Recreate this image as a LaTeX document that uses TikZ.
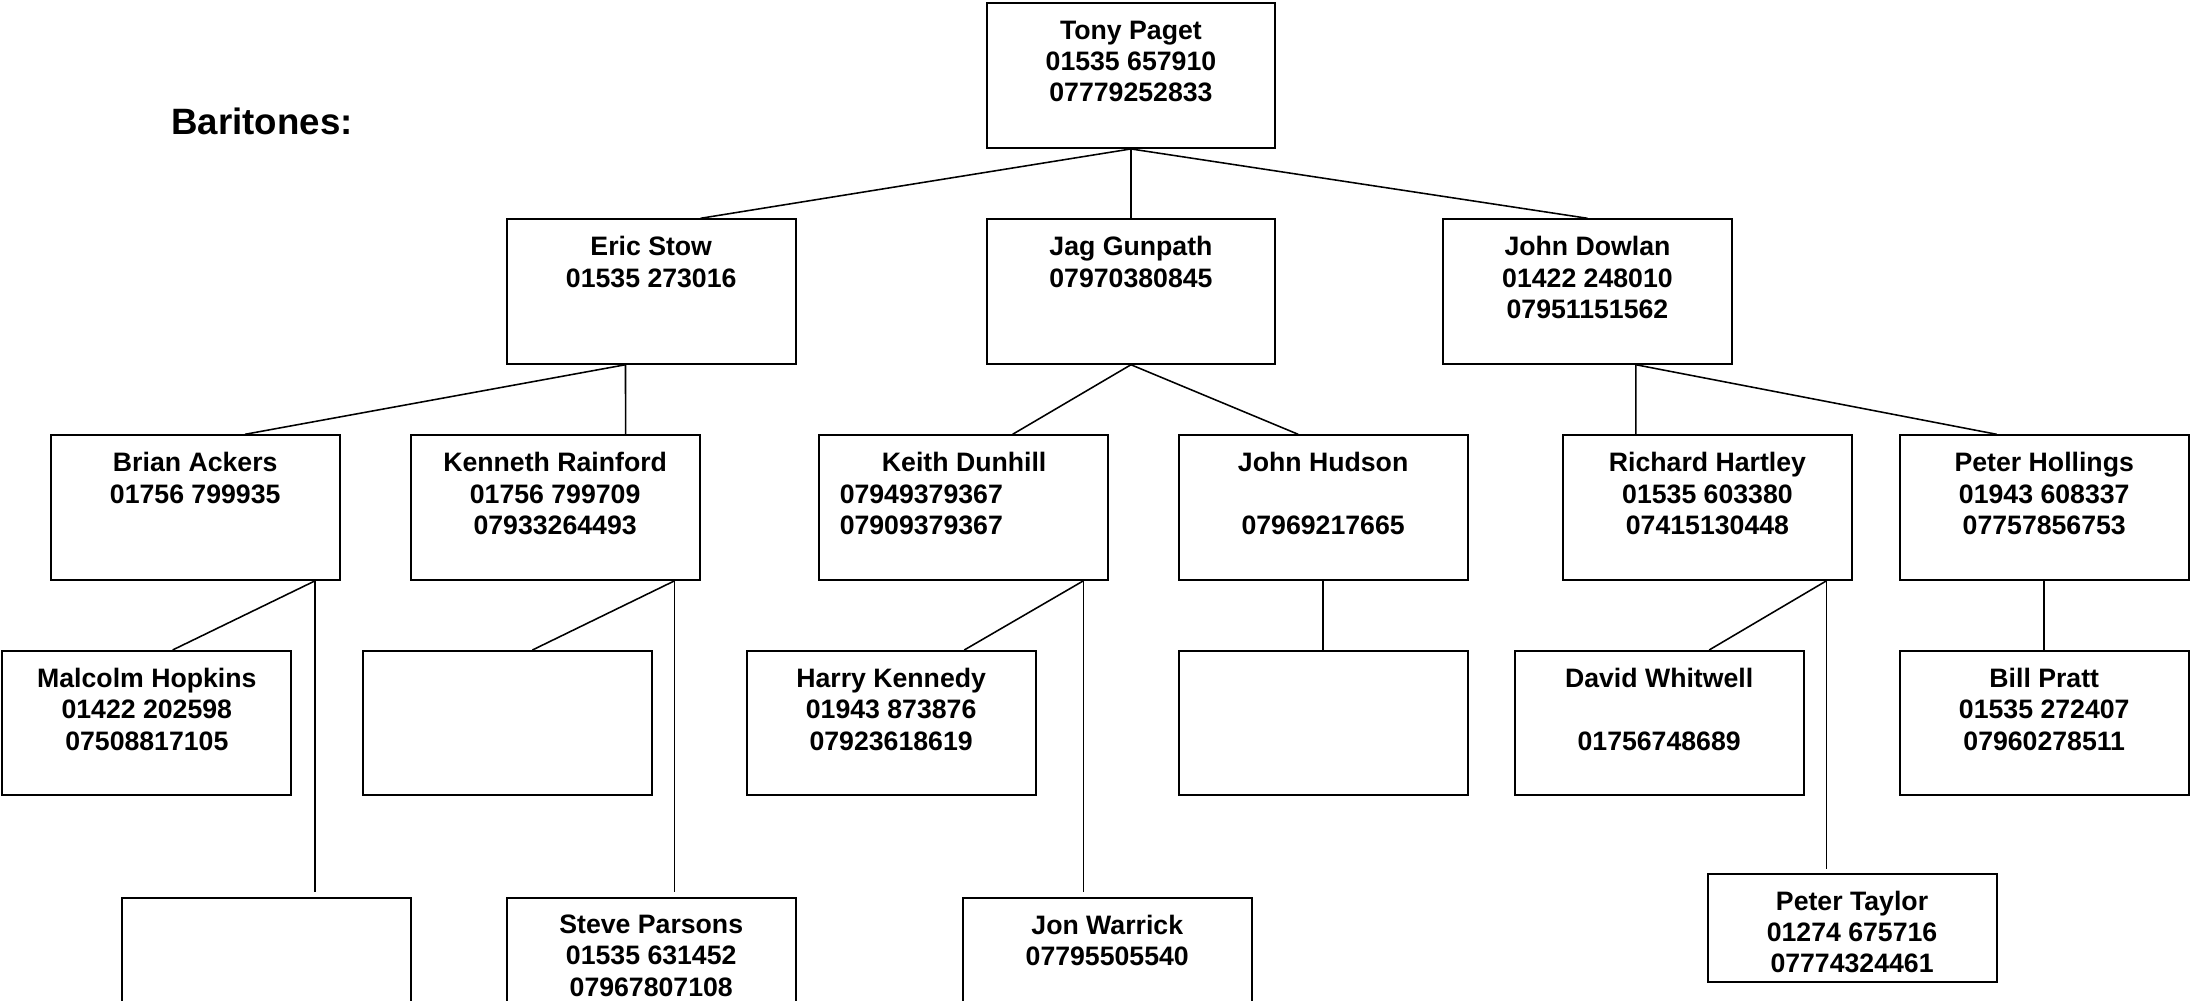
\documentclass[tikz,border=0pt]{standalone}
\usepackage{fontspec}
\setmainfont{Liberation Sans}
\tikzset{
  person/.style={draw, line width=0.9pt, anchor=north west, inner sep=0pt,
    minimum width=130pt, minimum height=65pt},
  short/.style={minimum height=48.6pt},
  info/.style={anchor=north, align=center, inner sep=0pt, yshift=-8pt,
    font=\bfseries\fontsize{12}{14.1}\selectfont},
  link/.style={line width=0.7pt},
}
\begin{document}
\begin{tikzpicture}[x=0.45pt,y=-0.45pt]
\useasboundingbox (0,0) rectangle (2190,1001);
\node[anchor=base west, inner sep=0pt, font=\bfseries\fontsize{16.5}{19}\selectfont] (title) at (171,135) {Baritones:};
% top
\node[person, label={[info]north:Tony Paget\\01535 657910\\07779252833}] (tp) at (985.5,2.5) {};
% second row
\node[person, label={[info]north:Eric Stow\\01535 273016}] (es) at (505.8,218.3) {};
\node[person, label={[info]north:Jag Gunpath\\07970380845}] (jg) at (985.5,218.3) {};
\node[person, label={[info]north:John Dowlan\\01422 248010\\07951151562}] (jd) at (1442,218.3) {};
% third row
\node[person, label={[info]north:Brian Ackers\\01756 799935}] (ba) at (49.8,434.3) {};
\node[person, label={[info]north:Kenneth Rainford\\01756 799709\\07933264493}] (kr) at (409.7,434.3) {};
\node[person, label={[info, align=left, anchor=north west, xshift=9.45pt]north west:\hspace*{19pt}Keith Dunhill\\07949379367\\07909379367}] (kd) at (818.3,434.3) {};
\node[person, label={[info]north:John Hudson\\[14.1pt]07969217665}] (jh) at (1177.7,434.3) {};
\node[person, label={[info]north:Richard Hartley\\01535 603380\\07415130448}] (rh) at (1562,434.3) {};
\node[person, label={[info]north:Peter Hollings\\01943 608337\\07757856753}] (ph) at (1898.8,434.3) {};
% fourth row
\node[person, label={[info]north:Malcolm Hopkins\\01422 202598\\07508817105}] (mh) at (1.4,650) {};
\node[person] (blank1) at (362,650) {};
\node[person, label={[info]north:Harry Kennedy\\01943 873876\\07923618619}] (hk) at (745.7,650) {};
\node[person] (blank2) at (1177.7,650) {};
\node[person, label={[info]north:David Whitwell\\[14.1pt]01756748689}] (dw) at (1513.7,650) {};
\node[person, label={[info]north:Bill Pratt\\01535 272407\\07960278511}] (bp) at (1898.8,650) {};
% fifth row
\node[person] (blank3) at (121.4,896.7) {};
\node[person, label={[info]north:Steve Parsons\\01535 631452\\07967807108}] (sp) at (505.8,896.7) {};
\node[person, label={[info]north:Jon Warrick\\07795505540}] (jw) at (961.8,896.7) {};
\node[person, short, label={[info]north:Peter Taylor\\01274 675716\\07774324461}] (pt) at (1706.6,872.7) {};
% free ends
\coordinate (ba-low) at ([xshift=54pt,yshift=-140pt]ba.south);
\coordinate (kr-low) at ([xshift=53.8pt,yshift=-140pt]kr.south);
\coordinate (kd-low) at ([xshift=53.9pt,yshift=-140pt]kd.south);
\coordinate (rh-low) at ([xshift=53.6pt,yshift=-129.5pt]rh.south);
% links
\draw[link] (tp.south) -- ([xshift=22.2pt]es.north);
\draw[link] (tp.south) -- (jg.north);
\draw[link] (tp.south) -- (jd.north);
\draw[link] ([xshift=-11.6pt]es.south) -- ([xshift=22.4pt]ba.north);
\draw[link] ([xshift=-11.6pt]es.south) -- ([xshift=31.7pt]kr.north);
\draw[link] (jg.south) -- ([xshift=22pt]kd.north);
\draw[link] (jg.south) -- ([xshift=-11.25pt]jh.north);
\draw[link] ([xshift=21.8pt]jd.south) -- ([xshift=-32.2pt]rh.north);
\draw[link] ([xshift=21.8pt]jd.south) -- ([xshift=-21.4pt]ph.north);
\draw[link] ([xshift=54pt]ba.south) -- ([xshift=11.6pt]mh.north);
\draw[link] ([xshift=54pt]ba.south) -- (ba-low);
\draw[link] ([xshift=53.8pt]kr.south) -- ([xshift=11.25pt]blank1.north);
\draw[link] ([xshift=53.8pt]kr.south) -- (kr-low);
\draw[link] ([xshift=53.9pt]kd.south) -- ([xshift=32.9pt]hk.north);
\draw[link] ([xshift=53.9pt]kd.south) -- (kd-low);
\draw[link] (jh.south) -- (blank2.north);
\draw[link] ([xshift=53.6pt]rh.south) -- ([xshift=22.5pt]dw.north);
\draw[link] ([xshift=53.6pt]rh.south) -- (rh-low);
\draw[link] (ph.south) -- (bp.north);
\end{tikzpicture}
\end{document}
